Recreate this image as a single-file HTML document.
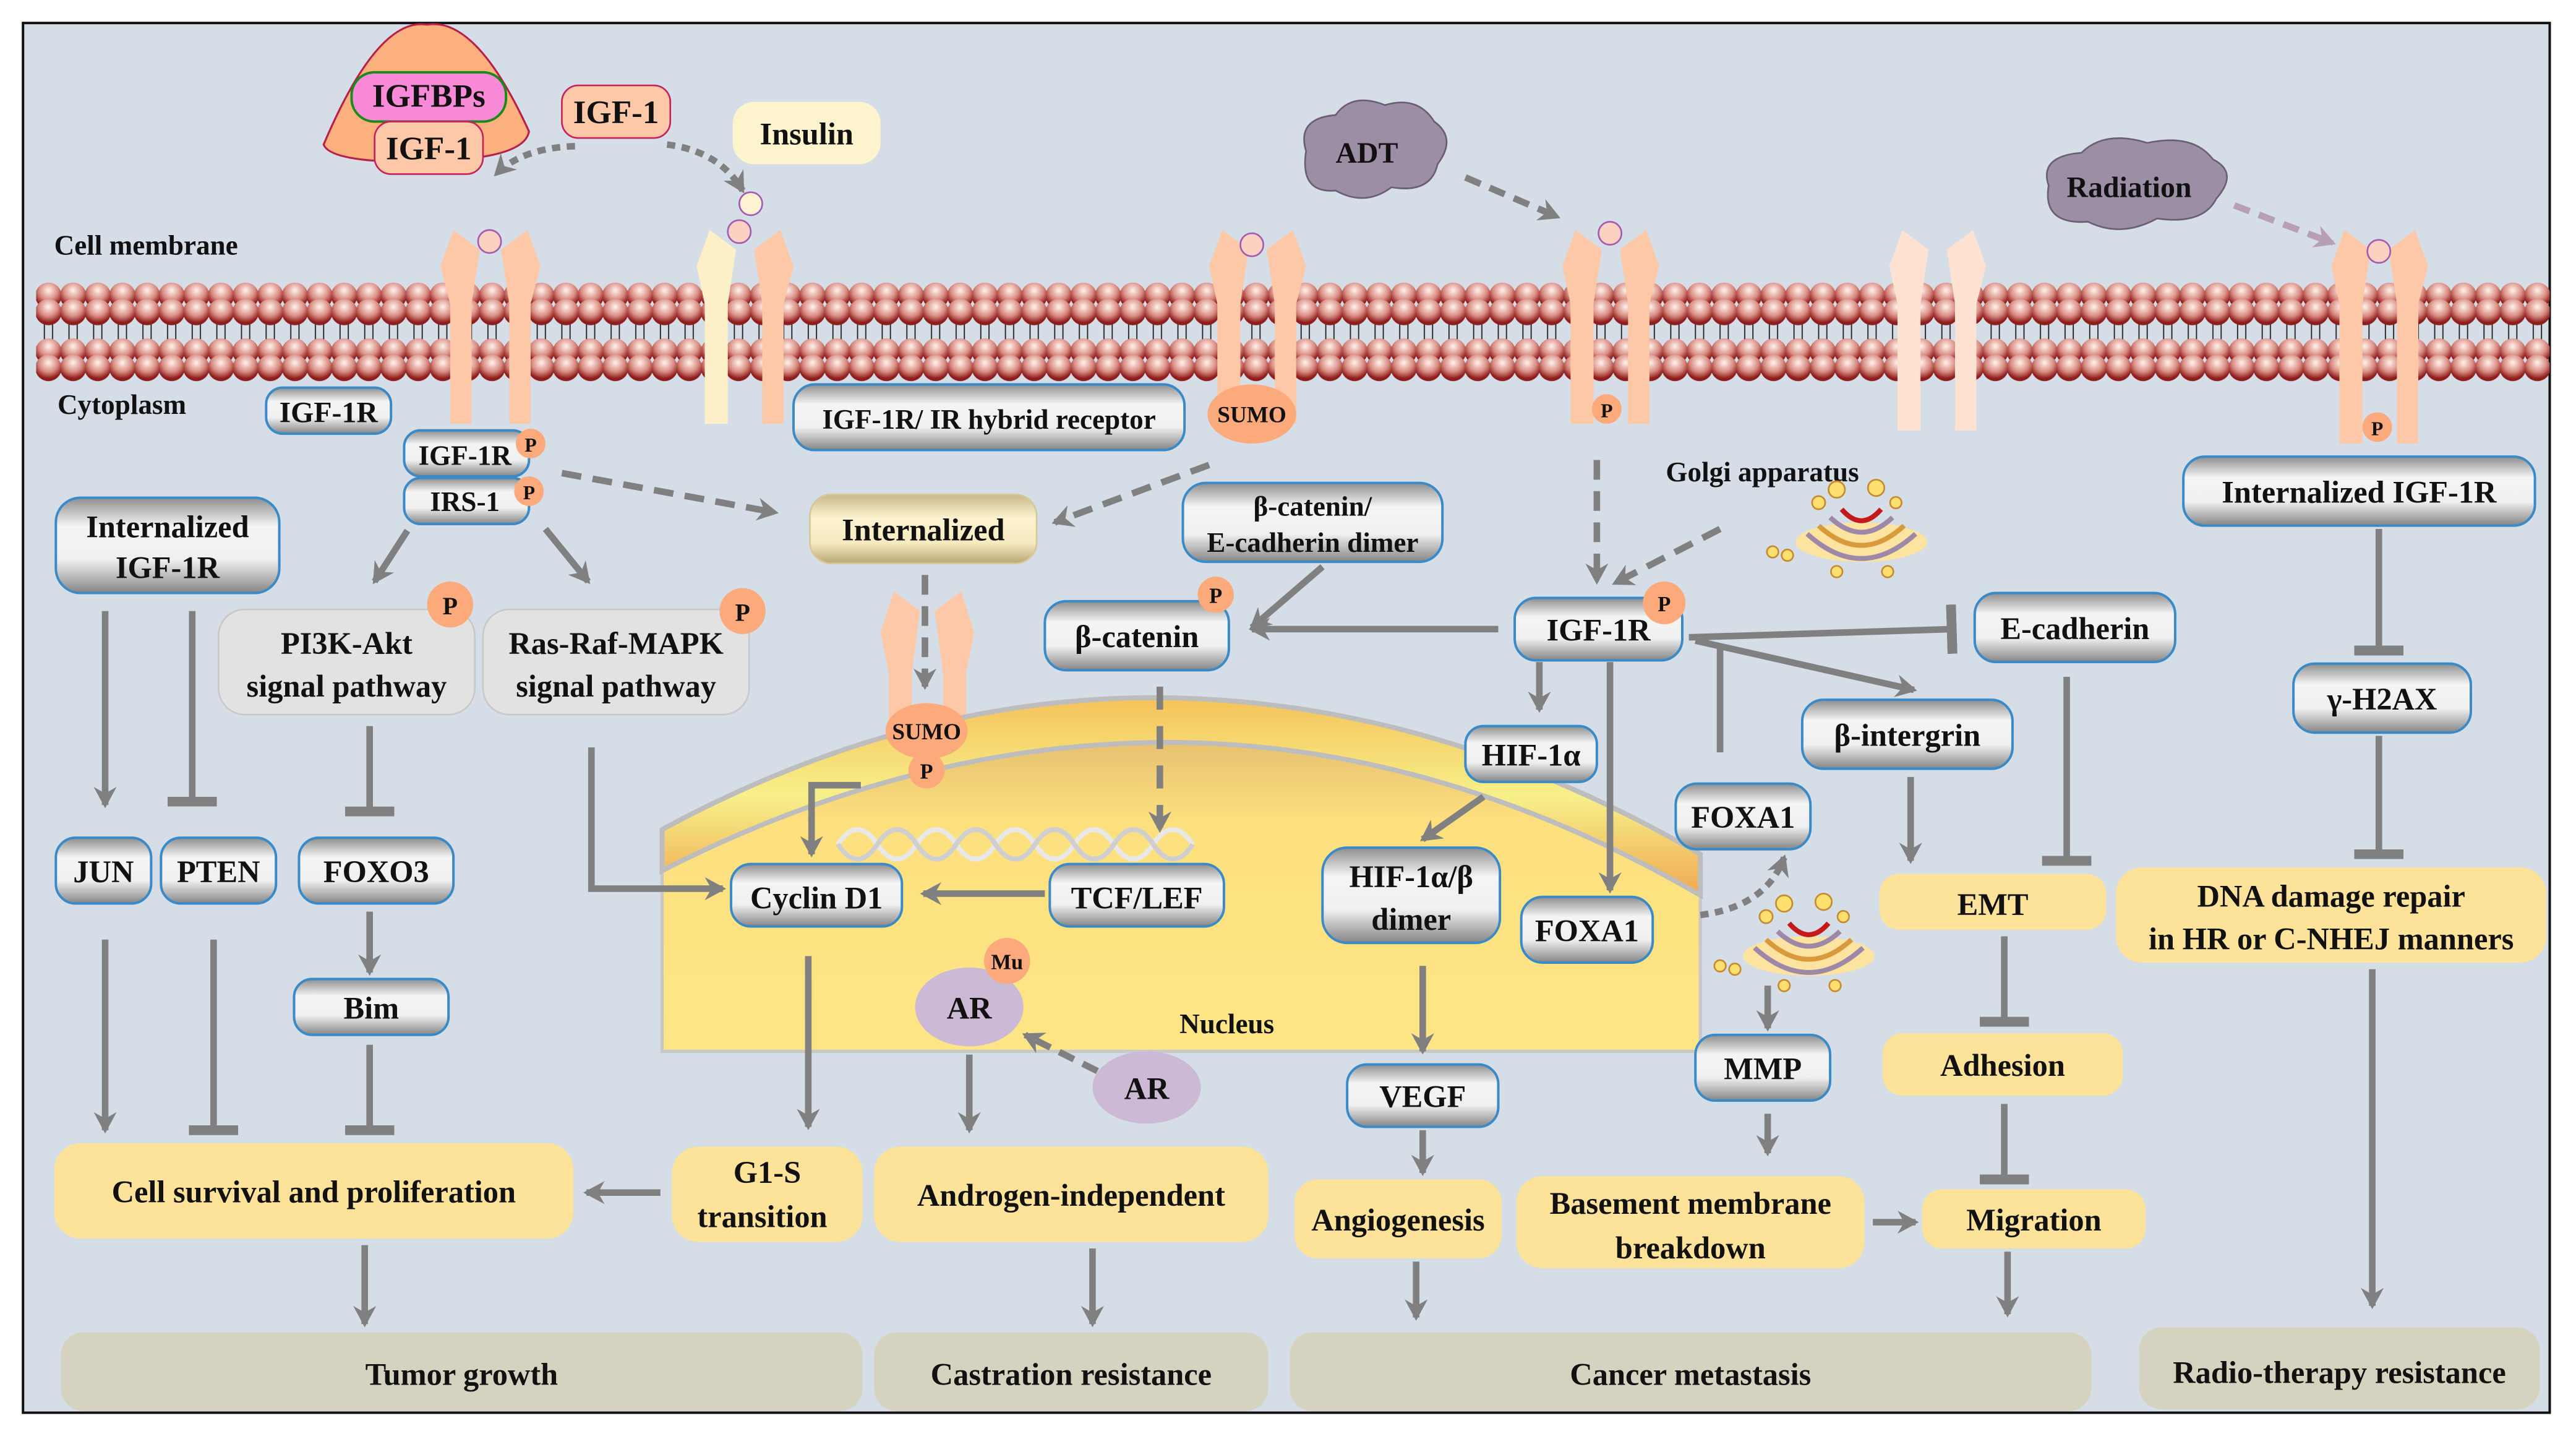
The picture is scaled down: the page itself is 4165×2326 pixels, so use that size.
<!DOCTYPE html>
<html><head><meta charset="utf-8"><style>
html,body{margin:0;padding:0;background:#fff;}
svg{display:block;}
text{font-family:"Liberation Serif",serif;font-weight:bold;fill:#111;}
</style></head><body>
<svg width="4165" height="2326" viewBox="0 0 1568 876" preserveAspectRatio="none" xmlns="http://www.w3.org/2000/svg">
<defs>
<linearGradient id="gb" x1="0" y1="0" x2="0" y2="1">
<stop offset="0" stop-color="#8e8e8e"/><stop offset="0.3" stop-color="#f4f4f4"/><stop offset="0.65" stop-color="#f0f0f0"/><stop offset="1" stop-color="#858585"/></linearGradient>
<linearGradient id="gi" x1="0" y1="0" x2="0" y2="1">
<stop offset="0" stop-color="#c9b98a"/><stop offset="0.35" stop-color="#fbf3d0"/><stop offset="0.7" stop-color="#f6eac0"/><stop offset="1" stop-color="#b9a775"/></linearGradient>
<radialGradient id="head" cx="0.5" cy="0.3" r="0.6"><stop offset="0" stop-color="#fff3ec"/><stop offset="0.6" stop-color="#d88a80"/><stop offset="1" stop-color="#8e1d1d"/></radialGradient>
<pattern id="mem" x="22" y="170" width="15" height="64" patternUnits="userSpaceOnUse">
<line x1="5" y1="18" x2="5" y2="46" stroke="#222" stroke-width="0.7"/><line x1="10" y1="18" x2="10" y2="46" stroke="#222" stroke-width="0.7"/>
<circle cx="7.5" cy="10" r="8" fill="url(#head)"/><circle cx="7.5" cy="20" r="8" fill="url(#head)"/>
<circle cx="7.5" cy="44" r="8" fill="url(#head)"/><circle cx="7.5" cy="54" r="8" fill="url(#head)"/>
</pattern>
<linearGradient id="nuc" x1="0" y1="0" x2="0" y2="1"><stop offset="0" stop-color="#d9b068"/><stop offset="0.35" stop-color="#fde07e"/><stop offset="1" stop-color="#fde586"/></linearGradient>
<linearGradient id="env" x1="0" y1="0" x2="0" y2="1"><stop offset="0" stop-color="#f5c25a"/><stop offset="0.5" stop-color="#f7f08a"/><stop offset="1" stop-color="#f0a850"/></linearGradient>
<marker id="a" markerWidth="14" markerHeight="14" refX="11" refY="7" orient="auto" markerUnits="userSpaceOnUse"><path d="M0,0 L13,7 L0,14 L4,7 Z" fill="#808080"/></marker>
<marker id="ap" markerWidth="14" markerHeight="14" refX="11" refY="7" orient="auto" markerUnits="userSpaceOnUse"><path d="M0,0 L13,7 L0,14 L4,7 Z" fill="#b8a0b4"/></marker>
<marker id="t" markerWidth="6" markerHeight="30" refX="3" refY="15" orient="auto" markerUnits="userSpaceOnUse"><rect x="0" y="0" width="6" height="30" fill="#808080"/></marker>
</defs>
<rect x="0" y="0" width="1568" height="876" fill="#fff"/>
<rect x="14" y="14" width="1538" height="846" fill="#d5dde7" stroke="#111" stroke-width="1.5"/>
<!-- membrane -->
<rect x="22" y="170" width="1530" height="64" fill="url(#mem)"/>
<!-- receptors -->
<g fill="#fcc8a8">
<path d="M274,232 L274,185 L268,162 L276,140 L292,152 L287,185 L287,258 L274,258 Z"/>
<path d="M310,258 L310,185 L305,152 L321,140 L329,162 L323,185 L323,258 Z"/>
<path d="M464,258 L464,185 L459,152 L475,140 L483,162 L477,185 L477,258 Z"/>
<path d="M741,258 L741,185 L736,162 L744,140 L760,152 L755,185 L755,258 Z"/>
<path d="M776,258 L776,185 L771,152 L787,140 L795,162 L789,185 L789,258 Z"/>
<path d="M956,258 L956,185 L951,162 L959,140 L975,152 L970,185 L970,258 Z"/>
<path d="M991,258 L991,185 L986,152 L1002,140 L1010,162 L1004,185 L1004,258 Z"/>
<path d="M1424,270 L1424,185 L1419,162 L1427,140 L1443,152 L1438,185 L1438,270 Z"/>
<path d="M1459,270 L1459,185 L1454,152 L1470,140 L1478,162 L1472,185 L1472,270 Z"/>
<path d="M541,480 L541,410 L536,385 L544,360 L560,372 L555,410 L555,480 Z"/>
<path d="M574,480 L574,410 L569,372 L585,360 L593,385 L588,410 L588,480 Z"/>
<rect x="540" y="440" width="48" height="42"/>
</g>
<path d="M429,258 L429,185 L424,162 L432,140 L448,152 L443,185 L443,258 Z" fill="#fdf0c8"/>
<g fill="#fde2d2"><path d="M1155,262 L1155,185 L1150,162 L1158,140 L1174,152 L1169,185 L1169,262 Z"/><path d="M1190,262 L1190,185 L1185,152 L1201,140 L1209,162 L1203,185 L1203,262 Z"/></g>
<g fill="#fbd2c2" stroke="#a35ab0" stroke-width="1"><ellipse cx="298" cy="147" rx="7" ry="7"/><ellipse cx="450" cy="141" rx="7" ry="7"/><ellipse cx="762" cy="149" rx="7" ry="7"/><ellipse cx="980" cy="142" rx="7" ry="7"/><ellipse cx="1448" cy="153" rx="7" ry="7"/></g>
<ellipse cx="457" cy="124" rx="7" ry="7" fill="#fdf3d0" stroke="#a35ab0"/>
<!-- nucleus -->
<path d="M403,505 Q560,420 720,425 Q880,430 1035,520 L1035,640 L403,640 Z" fill="url(#nuc)" stroke="#c8c8c8" stroke-width="2"/>
<path d="M403,505 Q560,420 720,425 Q880,430 1035,520 L1035,545 Q880,455 720,452 Q560,450 403,530 Z" fill="url(#env)" stroke="#bdbdbd" stroke-width="3"/>
<path d="M510,514 q12,-18 24,0 q12,18 24,0 q12,-18 24,0 q12,18 24,0 q12,-18 24,0 q12,18 24,0 q12,-18 24,0 q12,18 24,0 q12,-18 24,0" fill="none" stroke="#e8e8e8" stroke-width="3"/>
<path d="M510,514 q12,18 24,0 q12,-18 24,0 q12,18 24,0 q12,-18 24,0 q12,18 24,0 q12,-18 24,0 q12,18 24,0 q12,-18 24,0 q12,18 24,0" fill="none" stroke="#cfcfcf" stroke-width="3"/>
<!-- top ligands -->
<path d="M197,88 Q230,10 260,15 Q290,10 322,80 Q320,92 290,96 L230,98 Q200,96 197,88 Z" fill="#fbb07e" stroke="#b8204a" stroke-width="1.2"/>
<rect x="214" y="44" width="94" height="30" rx="14" fill="#f88ad8" stroke="#1a8a1a" stroke-width="1.5"/>
<text x="261" y="65" font-size="20" text-anchor="middle">IGFBPs</text>
<rect x="228" y="74" width="66" height="32" rx="10" fill="#fcc8a8" stroke="#c8205a" stroke-width="1"/>
<text x="261" y="97" font-size="20" text-anchor="middle">IGF-1</text>
<rect x="342" y="52" width="66" height="32" rx="10" fill="#fcc8a8" stroke="#c8205a" stroke-width="1"/>
<text x="375" y="75" font-size="20" text-anchor="middle">IGF-1</text>
<rect x="446" y="62" width="90" height="38" rx="13" fill="#fdf3cc"/>
<text x="491" y="88" font-size="19" text-anchor="middle">Insulin</text>
<!-- clouds -->
<g fill="#9c8ea4" stroke="#6a5e74" stroke-width="1">
<path d="M795,92 q-6,-20 18,-22 q10,-14 30,-6 q20,-6 30,10 q14,10 2,26 q-4,18 -28,14 q-16,12 -34,2 q-22,2 -18,-24 Z"/>
<path d="M1247,113 q-6,-18 20,-20 q14,-14 40,-6 q28,-6 40,10 q16,8 2,24 q-8,16 -36,12 q-22,12 -42,2 q-28,2 -24,-22 Z"/>
</g>
<text x="832" y="99" font-size="18" text-anchor="middle">ADT</text>
<text x="1296" y="120" font-size="18" text-anchor="middle">Radiation</text>
<!-- labels -->
<text x="33" y="155" font-size="17">Cell membrane</text>
<text x="35" y="252" font-size="17">Cytoplasm</text>
<text x="1014" y="293" font-size="17">Golgi apparatus</text>
<text x="718" y="629" font-size="17">Nucleus</text>
<!-- golgi -->
<g id="golgi">
<ellipse cx="1133" cy="330" rx="40" ry="12" fill="#fde3a0"/>
<path d="M1100,325 q33,30 66,0" fill="none" stroke="#9e88a8" stroke-width="3"/>
<path d="M1107,320 q26,24 52,0" fill="none" stroke="#d89a3a" stroke-width="3"/>
<path d="M1114,315 q19,18 38,0" fill="none" stroke="#9e88a8" stroke-width="3"/>
<path d="M1121,310 q12,14 24,0" fill="none" stroke="#c41a1a" stroke-width="3"/>
<g fill="#fde070" stroke="#c88a30"><circle cx="1107" cy="306" r="4"/><circle cx="1118" cy="298" r="5"/><circle cx="1142" cy="297" r="5"/><circle cx="1154" cy="306" r="3.5"/><circle cx="1079" cy="336" r="3.5"/><circle cx="1088" cy="338" r="3.5"/><circle cx="1118" cy="348" r="3.5"/><circle cx="1149" cy="348" r="3.5"/></g>
</g>
<use href="#golgi" transform="translate(-32,252)"/>
<!-- arrows -->
<g fill="none" stroke="#808080" stroke-width="4">
<path d="M350,89 Q318,90 302,106" stroke-dasharray="5,4" marker-end="url(#a)"/>
<path d="M406,88 Q438,92 452,116" stroke-dasharray="5,4" marker-end="url(#a)"/>
<path d="M892,108 L948,132" stroke-dasharray="10,6" marker-end="url(#a)"/>
<path d="M1360,125 L1420,148" stroke="#b8a0b4" stroke-dasharray="10,6" marker-end="url(#ap)"/>
<path d="M342,288 L472,312" stroke-dasharray="12,7" marker-end="url(#a)"/>
<path d="M736,283 L642,318" stroke-dasharray="12,7" marker-end="url(#a)"/>
<path d="M972,280 L972,354" stroke-dasharray="12,7" marker-end="url(#a)"/>
<path d="M1047,322 L983,355" stroke-dasharray="12,7" marker-end="url(#a)"/>
<path d="M563,350 L563,418" stroke-dasharray="12,7" marker-end="url(#a)"/>
<path d="M706,418 L706,505" stroke-dasharray="14,10" marker-end="url(#a)"/>
<path d="M248,323 L228,354" marker-end="url(#a)"/>
<path d="M332,322 L358,354" marker-end="url(#a)"/>
<path d="M64,372 L64,490" marker-end="url(#a)"/>
<path d="M117,372 L117,488" marker-end="url(#t)"/>
<path d="M225,442 L225,494" marker-end="url(#t)"/>
<path d="M225,555 L225,592" marker-end="url(#a)"/>
<path d="M225,636 L225,688" marker-end="url(#t)"/>
<path d="M64,572 L64,688" marker-end="url(#a)"/>
<path d="M130,572 L130,688" marker-end="url(#t)"/>
<path d="M360,455 L360,541 L440,541" marker-end="url(#a)"/>
<path d="M524,478 L494,478 L494,520" marker-end="url(#a)"/>
<path d="M636,544 L562,544" marker-end="url(#a)"/>
<path d="M805,345 L762,382" marker-end="url(#a)"/>
<path d="M912,383 L762,383" marker-end="url(#a)"/>
<path d="M937,403 L937,432" marker-end="url(#a)"/>
<path d="M980,403 L980,542" marker-end="url(#a)"/>
<path d="M903,485 L866,511" marker-end="url(#a)"/>
<path d="M1028,388 L1188,383" marker-end="url(#t)"/>
<path d="M1032,390 L1165,420" marker-end="url(#a)"/>
<path d="M1047,392 L1047,458"/>
<path d="M1035,557 Q1075,552 1086,522" stroke-dasharray="5,4" marker-end="url(#a)"/>
<path d="M1163,473 L1163,524" marker-end="url(#a)"/>
<path d="M1258,412 L1258,524" marker-end="url(#t)"/>
<path d="M1220,570 L1220,622" marker-end="url(#t)"/>
<path d="M1220,672 L1220,718" marker-end="url(#t)"/>
<path d="M1222,762 L1222,800" marker-end="url(#a)"/>
<path d="M1076,600 L1076,626" marker-end="url(#a)"/>
<path d="M1076,678 L1076,702" marker-end="url(#a)"/>
<path d="M1140,744 L1166,744" marker-end="url(#a)"/>
<path d="M866,588 L866,640" marker-end="url(#a)"/>
<path d="M866,688 L866,714" marker-end="url(#a)"/>
<path d="M862,768 L862,802" marker-end="url(#a)"/>
<path d="M492,582 L492,686" marker-end="url(#a)"/>
<path d="M402,726 L357,726" marker-end="url(#a)"/>
<path d="M590,642 L590,688" marker-end="url(#a)"/>
<path d="M668,652 L624,630" stroke-dasharray="10,6" marker-end="url(#a)"/>
<path d="M665,760 L665,806" marker-end="url(#a)"/>
<path d="M222,758 L222,806" marker-end="url(#a)"/>
<path d="M1448,322 L1448,396" marker-end="url(#t)"/>
<path d="M1448,448 L1448,520" marker-end="url(#t)"/>
<path d="M1444,590 L1444,795" marker-end="url(#a)"/>
</g>
<!-- gray boxes -->
<g fill="url(#gb)" stroke="#3a8ac8" stroke-width="1.5">
<rect x="162" y="236" width="76" height="28" rx="10"/>
<rect x="246" y="262" width="76" height="28" rx="10"/>
<rect x="246" y="291" width="76" height="28" rx="10"/>
<rect x="483" y="234" width="238" height="40" rx="13"/>
<rect x="34" y="303" width="136" height="58" rx="15"/>
<rect x="720" y="294" width="158" height="48" rx="14"/>
<rect x="636" y="366" width="112" height="42" rx="13"/>
<rect x="922" y="364" width="102" height="38" rx="13"/>
<rect x="1202" y="361" width="122" height="42" rx="13"/>
<rect x="1097" y="426" width="128" height="42" rx="13"/>
<rect x="892" y="442" width="80" height="34" rx="11"/>
<rect x="1020" y="477" width="82" height="40" rx="13"/>
<rect x="926" y="546" width="80" height="40" rx="13"/>
<rect x="805" y="516" width="108" height="58" rx="15"/>
<rect x="445" y="526" width="104" height="38" rx="12"/>
<rect x="639" y="526" width="106" height="38" rx="12"/>
<rect x="34" y="510" width="58" height="40" rx="12"/>
<rect x="98" y="510" width="70" height="40" rx="12"/>
<rect x="182" y="510" width="94" height="40" rx="12"/>
<rect x="179" y="596" width="94" height="34" rx="11"/>
<rect x="820" y="648" width="92" height="38" rx="12"/>
<rect x="1032" y="630" width="82" height="40" rx="12"/>
<rect x="1329" y="278" width="214" height="42" rx="13"/>
<rect x="1396" y="404" width="108" height="42" rx="13"/>
</g>
<g fill="#e2e2e2" stroke="#c8c8c8"><rect x="133" y="371" width="156" height="64" rx="16"/><rect x="294" y="371" width="162" height="64" rx="16"/></g>
<rect x="493" y="301" width="138" height="42" rx="13" fill="url(#gi)" stroke="#d8c898"/>
<!-- yellow -->
<g fill="#fde39a">
<rect x="1144" y="532" width="138" height="34" rx="12"/>
<rect x="1288" y="528" width="262" height="58" rx="16"/>
<rect x="1146" y="629" width="146" height="38" rx="12"/>
<rect x="1170" y="724" width="136" height="36" rx="12"/>
<rect x="923" y="716" width="212" height="56" rx="16"/>
<rect x="788" y="718" width="126" height="48" rx="14"/>
<rect x="532" y="698" width="240" height="58" rx="16"/>
<rect x="409" y="698" width="116" height="58" rx="16"/>
<rect x="33" y="696" width="316" height="58" rx="16"/>
</g>
<g fill="#d5d3bf">
<rect x="37" y="811" width="488" height="48" rx="14"/>
<rect x="532" y="811" width="240" height="48" rx="14"/>
<rect x="785" y="811" width="488" height="48" rx="14"/>
<rect x="1302" y="808" width="244" height="50" rx="14"/>
</g>
<!-- circles -->
<g fill="#fcaa7c">
<circle cx="323" cy="270" r="9"/><circle cx="322" cy="299" r="9"/>
<circle cx="274" cy="368" r="14"/><circle cx="452" cy="372" r="14"/>
<circle cx="740" cy="362" r="11"/><circle cx="1013" cy="367" r="13"/>
<circle cx="978" cy="249" r="9"/><circle cx="1447" cy="260" r="9"/>
<ellipse cx="762" cy="252" rx="27" ry="18"/>
<ellipse cx="564" cy="445" rx="25" ry="17"/><circle cx="564" cy="469" r="11"/>
<circle cx="613" cy="585" r="14"/>
</g>
<ellipse cx="590" cy="613" rx="33" ry="24" fill="#cbb9d5"/>
<ellipse cx="698" cy="662" rx="33" ry="22" fill="#cbb9d5"/>
<circle cx="613" cy="585" r="14" fill="#fcaa7c"/>
<!-- small P texts -->
<g fill="#7a1010" font-size="12" text-anchor="middle">
<text x="323" y="275" fill="#7a1010">P</text><text x="322" y="304" fill="#7a1010">P</text>
<text x="274" y="374" font-size="15" fill="#7a1010">P</text><text x="452" y="378" font-size="15" fill="#7a1010">P</text>
<text x="740" y="367" font-size="13" fill="#7a1010">P</text><text x="1013" y="372" font-size="13" fill="#7a1010">P</text>
<text x="978" y="254" fill="#7a1010">P</text><text x="1447" y="265" fill="#7a1010">P</text>
<text x="762" y="257" font-size="14" fill="#7a1010">SUMO</text>
<text x="564" y="450" font-size="14" fill="#7a1010">SUMO</text>
<text x="564" y="474" font-size="13" fill="#7a1010">P</text>
<text x="613" y="590" font-size="13" fill="#7a1010">Mu</text>
</g>
<g font-size="19" text-anchor="middle">
<text x="200" y="257" font-size="18">IGF-1R</text>
<text x="283" y="283" font-size="17">IGF-1R</text>
<text x="283" y="311" font-size="17">IRS-1</text>
<text x="602" y="261" font-size="17">IGF-1R/ IR hybrid receptor</text>
<text x="102" y="327">Internalized</text><text x="102" y="352">IGF-1R</text>
<text x="799" y="314" font-size="17">β-catenin/</text><text x="799" y="336" font-size="17">E-cadherin dimer</text>
<text x="692" y="394">β-catenin</text>
<text x="973" y="390">IGF-1R</text>
<text x="1263" y="389">E-cadherin</text>
<text x="1161" y="454">β-intergrin</text>
<text x="932" y="466">HIF-1α</text>
<text x="1061" y="504">FOXA1</text>
<text x="966" y="573">FOXA1</text>
<text x="859" y="540">HIF-1α/β</text><text x="859" y="566">dimer</text>
<text x="497" y="553">Cyclin D1</text>
<text x="692" y="553">TCF/LEF</text>
<text x="63" y="537">JUN</text>
<text x="133" y="537">PTEN</text>
<text x="229" y="537">FOXO3</text>
<text x="226" y="620">Bim</text>
<text x="866" y="674">VEGF</text>
<text x="1073" y="657">MMP</text>
<text x="1436" y="306">Internalized IGF-1R</text>
<text x="1450" y="432">γ-H2AX</text>
<text x="211" y="398">PI3K-Akt</text><text x="211" y="424">signal pathway</text>
<text x="375" y="398">Ras-Raf-MAPK</text><text x="375" y="424">signal pathway</text>
<text x="562" y="329">Internalized</text>
<text x="1213" y="557">EMT</text>
<text x="1419" y="552">DNA damage repair</text><text x="1419" y="578">in HR or C-NHEJ manners</text>
<text x="1219" y="655">Adhesion</text>
<text x="1238" y="749">Migration</text>
<text x="1029" y="739">Basement membrane</text><text x="1029" y="766">breakdown</text>
<text x="851" y="749">Angiogenesis</text>
<text x="652" y="734">Androgen-independent</text>
<text x="467" y="720">G1-S</text><text x="464" y="747">transition</text>
<text x="191" y="732">Cell survival and proliferation</text>
<text x="590" y="620">AR</text>
<text x="698" y="669">AR</text>
<text x="281" y="843">Tumor growth</text>
<text x="652" y="843">Castration resistance</text>
<text x="1029" y="843">Cancer metastasis</text>
<text x="1424" y="842">Radio-therapy resistance</text>
</g>
</svg>
</body></html>
